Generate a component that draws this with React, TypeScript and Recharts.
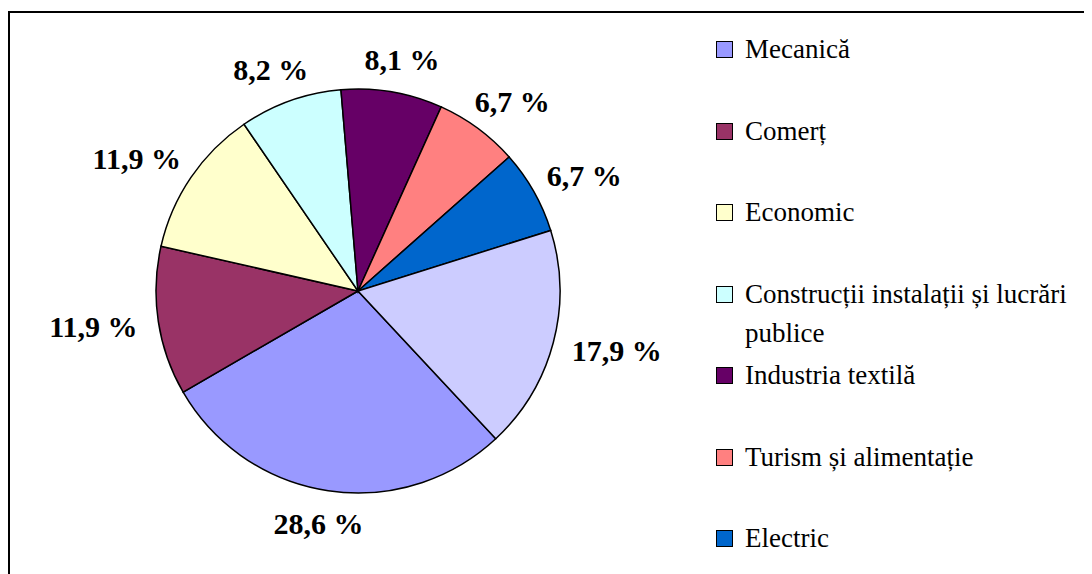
import { PieChart, Pie, Cell, Legend } from "recharts";

const sectors = [
  "Mecanică",
  "Comerț",
  "Economic",
  "Construcții instalații și lucrări publice",
  "Industria textilă",
  "Turism și alimentație",
  "Electric",
  "",
];
const shares = [28.6, 11.9, 11.9, 8.2, 8.1, 6.7, 6.7, 17.9];
const colors = [
  "#9999FF",
  "#993366",
  "#FFFFCC",
  "#CCFFFF",
  "#660066",
  "#FF8080",
  "#0066CC",
  "#CCCCFF",
];

const data = sectors.map((name, i) => ({ name, value: shares[i] }));

const RAD = Math.PI / 180;
const serif =
  '"Liberation Serif", Tinos, "Times New Roman", Times, "Nimbus Roman", "Nimbus Roman No9 L", FreeSerif, "Noto Serif", "DejaVu Serif", serif';

const renderLabel = (props: any) => {
  const { cx, cy, midAngle, outerRadius, value } = props;
  const text = `${Number(value).toFixed(1).replace(".", ",")} %`;
  const dx = Math.cos(-midAngle * RAD);
  const dy = Math.sin(-midAngle * RAD);
  const r = outerRadius + 20;
  const halfW = text.length * 7.6;
  const x = cx + r * dx + dx * halfW;
  const y = cy + r * dy + dy * 13;
  return (
    <text
      x={x}
      y={y}
      textAnchor="middle"
      dominantBaseline="central"
      style={{ fontFamily: serif }}
      fontWeight="bold"
      fontSize={30}
      fill="#000"
    >
      {text}
    </text>
  );
};

const renderLegend = () => (
  <div style={{ fontFamily: serif, fontSize: 27, color: "#000" }}>
    {data
      .map((d, i) => ({ ...d, color: colors[i] }))
      .filter((d) => d.name !== "")
      .map((d) => (
        <div
          key={d.name}
          style={{ display: "flex", alignItems: "flex-start", height: 81.5 }}
        >
          <div
            style={{
              height: 39,
              display: "flex",
              alignItems: "center",
              marginRight: 12,
            }}
          >
            <div
              style={{
                width: 15,
                height: 15,
                background: d.color,
                border: "1.5px solid #000",
              }}
            />
          </div>
          <div style={{ lineHeight: "39px", width: 336 }}>{d.name}</div>
        </div>
      ))}
  </div>
);

export default function App() {
  return (
    <div style={{ position: "relative", width: 1084, height: 566, overflow: "hidden" }}>
      <div
        style={{
          position: "absolute",
          left: 0,
          top: 3,
          width: 1200,
          height: 700,
          borderTop: "2px solid #000",
          borderLeft: "2px solid #000",
        }}
      />
      <PieChart
        width={1084}
        height={566}
        margin={{ top: 0, right: 0, bottom: 0, left: 0 }}
        style={{ position: "absolute", left: 0, top: 0 }}
      >
        <Pie
          data={data}
          dataKey="value"
          nameKey="name"
          cx={350}
          cy={283}
          outerRadius={202}
          startAngle={-47}
          endAngle={-407}
          stroke="#000"
          strokeWidth={1.5}
          label={renderLabel}
          labelLine={false}
          isAnimationActive={false}
        >
          {data.map((d, i) => (
            <Cell key={i} fill={colors[i]} />
          ))}
        </Pie>
        <Legend
          content={renderLegend}
          wrapperStyle={{ left: 708, top: 22, width: 376 }}
        />
      </PieChart>
    </div>
  );
}
